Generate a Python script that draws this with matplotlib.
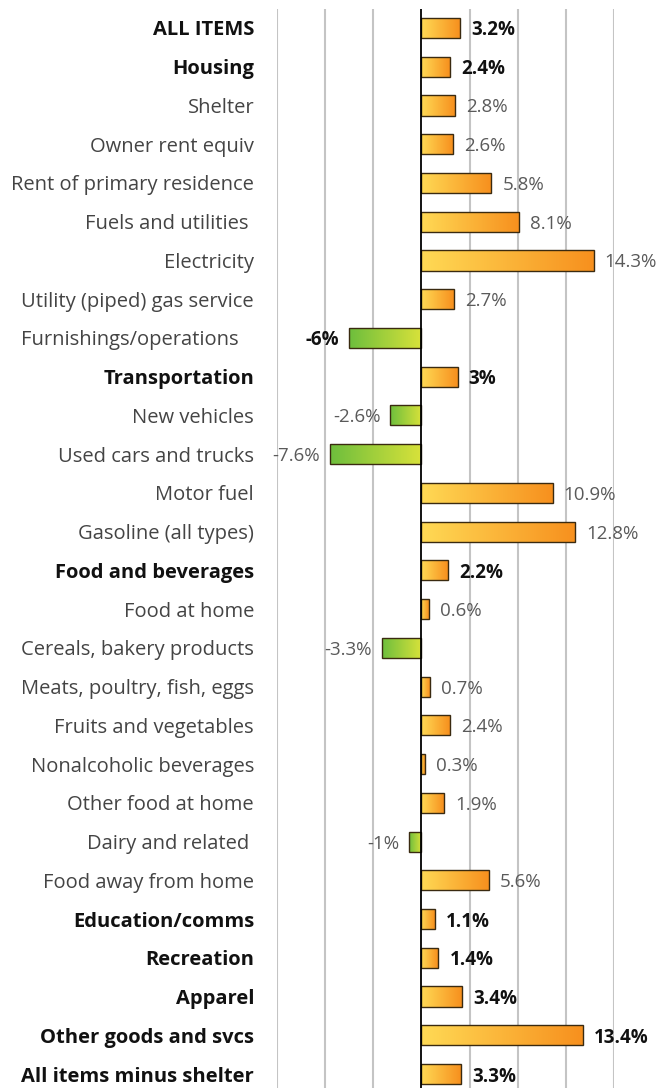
import numpy as np
import matplotlib.pyplot as plt
from matplotlib.patches import Rectangle
from matplotlib.colors import LinearSegmentedColormap

plt.rcParams['font.family'] = ['Open Sans', 'DejaVu Sans']

# categories top to bottom
categories = ['ALL ITEMS', 'Housing', 'Shelter', 'Owner rent equiv',
              'Rent of primary residence', 'Fuels and utilities ', 'Electricity',
              'Utility (piped) gas service', 'Furnishings/operations   ',
              'Transportation', 'New vehicles', 'Used cars and trucks',
              'Motor fuel', 'Gasoline (all types)', 'Food and beverages',
              'Food at home', 'Cereals, bakery products',
              'Meats, poultry, fish, eggs', 'Fruits and vegetables',
              'Nonalcoholic beverages', 'Other food at home', 'Dairy and related ',
              'Food away from home', 'Education/comms', 'Recreation', 'Apparel',
              'Other goods and svcs', 'All items minus shelter']
values = [3.2, 2.4, 2.8, 2.6, 5.8, 8.1, 14.3, 2.7, -6, 3, -2.6, -7.6, 10.9,
          12.8, 2.2, 0.6, -3.3, 0.7, 2.4, 0.3, 1.9, -1, 5.6, 1.1, 1.4, 3.4,
          13.4, 3.3]
bold_label = [True, True, False, False, False, False, False, False, False,
              True, False, False, False, False, True, False, False, False,
              False, False, False, False, False, True, True, True, True, True]
bold_value = [True, True, False, False, False, False, False, False, True,
              True, False, False, False, False, True, False, False, False,
              False, False, False, False, False, True, True, True, True, True]
value_labels = ['3.2%', '2.4%', '2.8%', '2.6%', '5.8%', '8.1%', '14.3%',
                '2.7%', '-6%', '3%', '-2.6%', '-7.6%', '10.9%', '12.8%',
                '2.2%', '0.6%', '-3.3%', '0.7%', '2.4%', '0.3%', '1.9%', '-1%',
                '5.6%', '1.1%', '1.4%', '3.4%', '13.4%', '3.3%']

pos_cmap = LinearSegmentedColormap.from_list('pos', ['#FFDA55', '#F7901E'])
neg_cmap = LinearSegmentedColormap.from_list('neg', ['#6DBE3D', '#D9E23A'])

W, H = 668, 1088
fig = plt.figure(figsize=(W / 100, H / 100), dpi=100)
top_px = 8.6
ax = fig.add_axes([277 / W, 0, (614 - 277) / W, (H - top_px) / H])
ax.set_xlim(-12, 16)
ax.set_ylim(27.36, -0.5)

for x in [-12, -8, -4, 4, 8, 12, 16]:
    ax.axvline(x, color='#C4C4C4', lw=1.5, zorder=0)

grad = np.linspace(0, 1, 256).reshape(1, -1)
bar_h = 0.52
for i, v in enumerate(values):
    x0 = min(0, v)
    rect = Rectangle((x0, i - bar_h / 2), abs(v), bar_h, facecolor='none',
                     edgecolor='#3a2a10', lw=1.0, zorder=3)
    ax.add_patch(rect)
    img = ax.imshow(grad, cmap=pos_cmap if v > 0 else neg_cmap, aspect='auto',
                    extent=(x0, x0 + abs(v), i + bar_h / 2, i - bar_h / 2),
                    zorder=2, interpolation='bilinear')
    img.set_clip_path(rect)

    fw = 'bold' if bold_value[i] else 'normal'
    col = '#111111' if bold_value[i] else '#5a5a5a'
    if v >= 0:
        ax.annotate(value_labels[i], (v, i), xytext=(8, 0), textcoords='offset points',
                    ha='left', va='center_baseline', fontsize=13.5, fontweight=fw,
                    color=col, zorder=4)
    else:
        ax.annotate(value_labels[i], (v, i), xytext=(-7, 0), textcoords='offset points',
                    ha='right', va='center_baseline', fontsize=13.5, fontweight=fw,
                    color=col, zorder=4)

ax.axvline(0, color='black', lw=1.3, zorder=5)

ax.set_yticks(range(len(categories)))
ax.set_yticklabels(categories, fontsize=14.5, va='center_baseline')
for lbl, b in zip(ax.get_yticklabels(), bold_label):
    if b:
        lbl.set_fontweight('bold')
        lbl.set_color('#111111')
    else:
        lbl.set_color('#444444')
ax.tick_params(axis='y', length=0, pad=16.5)
ax.set_xticks([])
for s in ax.spines.values():
    s.set_visible(False)
ax.patch.set_alpha(0)

fig.savefig('out.png', dpi=100)
